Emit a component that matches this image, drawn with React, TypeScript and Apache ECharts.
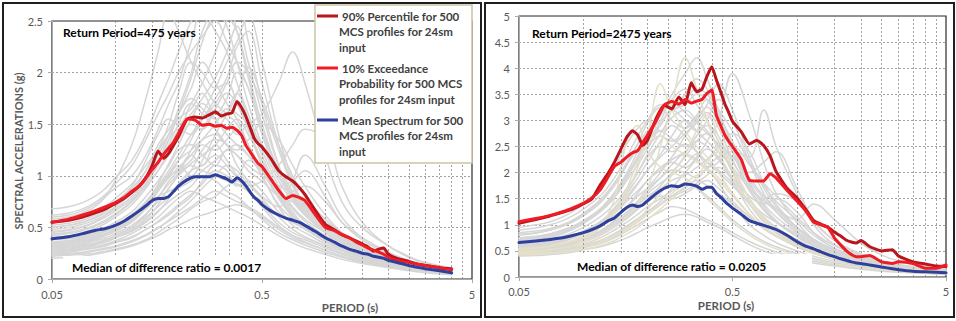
import React, { useEffect, useRef } from "react";
import * as echarts from "echarts";

// Periods (s) at which the summary spectra are tabulated
const PERIODS = [
  0.05, 0.06, 0.07, 0.08, 0.09, 0.1, 0.11, 0.12, 0.13, 0.14, 0.15, 0.16, 0.17, 0.18, 0.19, 0.2,
  0.22, 0.24, 0.26, 0.28, 0.3, 0.32, 0.34, 0.36, 0.38, 0.4, 0.42, 0.44, 0.46, 0.48, 0.5,
  0.55, 0.6, 0.65, 0.7, 0.75, 0.8, 0.9, 1.0, 1.1, 1.2, 1.3, 1.4, 1.5, 1.6, 1.7, 1.8, 1.9, 2.0,
  2.2, 2.5, 2.8, 3.0, 3.5, 4.0, 4.5, 5.0,
];

// Return period 475 years (runs to 4 s)
const P90_475 = [
  0.55, 0.57, 0.6, 0.64, 0.68, 0.73, 0.78, 0.84, 0.9, 0.98, 1.1, 1.24, 1.17, 1.22, 1.3, 1.38,
  1.55, 1.57, 1.56, 1.59, 1.62, 1.58, 1.6, 1.61, 1.72, 1.66, 1.57, 1.46, 1.36, 1.31, 1.28,
  1.17, 1.05, 0.99, 0.95, 0.89, 0.82, 0.66, 0.53, 0.48, 0.43, 0.4, 0.37, 0.34, 0.31, 0.27, 0.29, 0.3, 0.24,
  0.2, 0.17, 0.14, 0.13, 0.11, 0.1,
];
const EXC10_475 = [
  0.55, 0.58, 0.62, 0.66, 0.7, 0.74, 0.79, 0.85, 0.9, 0.98, 1.06, 1.13, 1.21, 1.27, 1.33, 1.41,
  1.55, 1.54, 1.49, 1.5, 1.48, 1.49, 1.46, 1.47, 1.44, 1.39, 1.29, 1.23, 1.17, 1.12, 1.09,
  0.97, 0.86, 0.78, 0.81, 0.79, 0.76, 0.62, 0.5, 0.47, 0.43, 0.4, 0.36, 0.33, 0.3, 0.28, 0.26, 0.24, 0.21,
  0.18, 0.16, 0.14, 0.13, 0.11, 0.09,
];
const MEAN_475 = [
  0.39, 0.41, 0.44, 0.47, 0.49, 0.52, 0.56, 0.61, 0.66, 0.71, 0.76, 0.78, 0.78, 0.8, 0.85, 0.9,
  0.96, 0.99, 0.99, 0.99, 1.01, 0.99, 0.97, 0.94, 0.98, 0.95, 0.9, 0.84, 0.79, 0.76, 0.72,
  0.66, 0.62, 0.59, 0.57, 0.55, 0.52, 0.46, 0.4, 0.36, 0.32, 0.29, 0.27, 0.25, 0.24, 0.22, 0.21, 0.2, 0.18,
  0.16, 0.13, 0.11, 0.1, 0.08, 0.06,
];

// Return period 2475 years
const P90_2475 = [
  1.03, 1.1, 1.17, 1.24, 1.31, 1.4, 1.5, 1.76, 1.97, 2.2, 2.45, 2.68, 2.8, 2.72, 2.52, 2.62,
  3.05, 3.29, 3.22, 3.45, 3.3, 3.72, 3.55, 3.6, 3.85, 4.03, 3.78, 3.55, 3.32, 3.15, 2.98,
  2.78, 2.55, 2.62, 2.52, 2.32, 2.02, 1.7, 1.52, 1.3, 1.08, 1.01, 0.95, 0.86, 0.79, 0.71, 0.67, 0.65, 0.7,
  0.58, 0.5, 0.52, 0.4, 0.29, 0.25, 0.21, 0.2,
];
const EXC10_2475 = [
  1.06, 1.12, 1.18, 1.25, 1.33, 1.41, 1.52, 1.67, 1.9, 2.12, 2.2, 2.3, 2.38, 2.42, 2.58, 2.72,
  3.0, 3.3, 3.36, 3.31, 3.4, 3.33, 3.37, 3.4, 3.52, 3.58, 3.1, 2.9, 2.72, 2.6, 2.5,
  2.25, 1.85, 1.84, 1.84, 1.98, 1.9, 1.66, 1.46, 1.27, 1.05, 1.0, 0.95, 0.75, 0.62, 0.51, 0.43, 0.39, 0.39,
  0.41, 0.29, 0.26, 0.29, 0.26, 0.17, 0.17, 0.23,
];
const MEAN_2475 = [
  0.66, 0.69, 0.72, 0.75, 0.8, 0.85, 0.91, 0.98, 1.07, 1.13, 1.24, 1.33, 1.38, 1.35, 1.38, 1.46,
  1.6, 1.7, 1.75, 1.73, 1.78, 1.77, 1.74, 1.68, 1.72, 1.72, 1.6, 1.53, 1.45, 1.38, 1.32,
  1.2, 1.08, 1.03, 0.99, 0.95, 0.91, 0.8, 0.68, 0.59, 0.54, 0.48, 0.43, 0.39, 0.35, 0.32, 0.29, 0.27, 0.26,
  0.23, 0.19, 0.16, 0.14, 0.11, 0.1, 0.09, 0.08,
];

// Individual MCS profile spectra (a sample of the 500 profiles)
const PROFILE_PERIODS = [
  0.05, 0.06, 0.07, 0.08, 0.09, 0.1, 0.12, 0.14, 0.16, 0.18, 0.2, 0.23, 0.26, 0.3, 0.34, 0.38,
  0.43, 0.5, 0.6, 0.7, 0.8, 1.0, 1.2, 1.5, 2.0, 2.5, 3.0, 4.0, 5.0,
];

const PROFILES_475 = [
  [0.3, 0.31, 0.33, 0.35, 0.38, 0.42, 0.5, 0.62, 0.78, 0.95, 1.05, 1.2, 1.1, 1.3, 1.15, 1.0, 0.85, 0.7, 0.52, 0.42, 0.36, 0.28, 0.22, 0.17, 0.12, 0.09, 0.07, 0.05],
  [0.45, 0.47, 0.5, 0.55, 0.62, 0.7, 0.85, 1.05, 1.3, 1.45, 1.6, 1.85, 2.1, 1.9, 1.7, 1.55, 1.3, 1.0, 0.72, 0.58, 0.5, 0.38, 0.3, 0.24, 0.17, 0.13, 0.1, 0.07],
  [0.25, 0.26, 0.28, 0.3, 0.32, 0.35, 0.4, 0.48, 0.55, 0.62, 0.7, 0.8, 0.95, 1.1, 1.05, 0.9, 0.95, 0.85, 0.65, 0.55, 0.48, 0.36, 0.28, 0.21, 0.15, 0.11, 0.09, 0.06],
  [0.6, 0.62, 0.66, 0.72, 0.8, 0.88, 1.0, 1.2, 1.45, 1.7, 1.9, 2.3, 2.6, 2.4, 2.2, 1.9, 1.6, 1.25, 0.9, 0.7, 0.58, 0.45, 0.36, 0.28, 0.2, 0.15, 0.12, 0.09],
  [0.35, 0.36, 0.38, 0.41, 0.44, 0.48, 0.58, 0.7, 0.85, 1.0, 1.1, 1.0, 1.15, 1.4, 1.6, 1.8, 1.55, 1.2, 0.85, 0.65, 0.52, 0.4, 0.32, 0.25, 0.18, 0.13, 0.1, 0.07],
  [0.22, 0.23, 0.24, 0.25, 0.27, 0.29, 0.33, 0.38, 0.45, 0.52, 0.58, 0.68, 0.75, 0.8, 0.9, 0.95, 0.85, 0.72, 0.55, 0.45, 0.4, 0.32, 0.25, 0.19, 0.14, 0.1, 0.08, 0.05],
  [0.5, 0.52, 0.55, 0.6, 0.66, 0.74, 0.9, 1.15, 1.4, 1.55, 1.5, 1.7, 1.9, 2.2, 2.5, 2.7, 2.3, 1.7, 1.1, 0.8, 0.62, 0.48, 0.38, 0.29, 0.21, 0.16, 0.12, 0.08],
  [0.4, 0.41, 0.43, 0.46, 0.5, 0.55, 0.65, 0.8, 0.95, 1.1, 1.25, 1.3, 1.2, 1.1, 1.25, 1.2, 1.05, 0.95, 0.8, 0.75, 0.7, 0.55, 0.45, 0.32, 0.22, 0.16, 0.12, 0.09],
  [0.28, 0.29, 0.31, 0.33, 0.36, 0.4, 0.47, 0.56, 0.66, 0.75, 0.82, 0.9, 1.0, 0.95, 0.85, 0.8, 0.7, 0.58, 0.45, 0.38, 0.33, 0.26, 0.21, 0.16, 0.12, 0.09, 0.07, 0.05],
  [0.55, 0.57, 0.6, 0.64, 0.7, 0.78, 0.92, 1.1, 1.25, 1.4, 1.55, 1.65, 1.8, 1.6, 1.75, 2.0, 1.85, 1.4, 1.0, 0.8, 0.66, 0.5, 0.4, 0.3, 0.22, 0.16, 0.12, 0.08],
  [0.32, 0.33, 0.35, 0.38, 0.42, 0.46, 0.55, 0.68, 0.8, 0.85, 0.9, 1.05, 1.25, 1.35, 1.3, 1.1, 0.95, 0.8, 0.7, 0.95, 1.2, 0.9, 0.6, 0.4, 0.25, 0.17, 0.13, 0.09],
  [0.42, 0.44, 0.47, 0.51, 0.56, 0.62, 0.75, 0.9, 1.05, 1.2, 1.35, 1.5, 1.45, 1.6, 1.55, 1.4, 1.5, 1.6, 1.9, 2.2, 1.9, 1.2, 0.75, 0.5, 0.32, 0.22, 0.16, 0.11],
  [0.26, 0.27, 0.29, 0.31, 0.34, 0.37, 0.44, 0.52, 0.6, 0.7, 0.78, 0.85, 0.8, 0.75, 0.7, 0.65, 0.6, 0.52, 0.42, 0.35, 0.3, 0.24, 0.19, 0.15, 0.11, 0.08, 0.06, 0.04],
  [0.48, 0.5, 0.53, 0.57, 0.62, 0.68, 0.8, 0.98, 1.2, 1.4, 1.65, 2.0, 2.4, 2.6, 2.45, 2.1, 1.7, 1.3, 0.95, 0.75, 0.62, 0.46, 0.36, 0.27, 0.19, 0.14, 0.11, 0.08],
  [0.38, 0.39, 0.41, 0.44, 0.47, 0.52, 0.6, 0.72, 0.88, 1.0, 1.05, 1.15, 1.3, 1.25, 1.35, 1.45, 1.3, 1.05, 0.8, 0.6, 0.5, 0.38, 0.3, 0.23, 0.16, 0.12, 0.09, 0.06],
  [0.3, 0.31, 0.32, 0.34, 0.37, 0.4, 0.46, 0.55, 0.65, 0.78, 0.92, 1.05, 1.1, 1.2, 1.1, 1.0, 1.15, 1.05, 0.8, 0.62, 0.5, 0.38, 0.29, 0.22, 0.15, 0.11, 0.08, 0.06],
  [0.68, 0.7, 0.74, 0.8, 0.88, 0.98, 1.15, 1.4, 1.7, 1.95, 2.2, 2.5, 2.7, 2.6, 2.55, 2.4, 2.0, 1.5, 1.05, 0.82, 0.68, 0.52, 0.42, 0.32, 0.23, 0.17, 0.13, 0.09],
  [0.24, 0.25, 0.26, 0.28, 0.3, 0.32, 0.37, 0.43, 0.5, 0.56, 0.62, 0.7, 0.78, 0.85, 0.8, 0.75, 0.7, 0.62, 0.5, 0.42, 0.38, 0.3, 0.24, 0.18, 0.13, 0.09, 0.07, 0.05],
  [0.36, 0.37, 0.4, 0.43, 0.47, 0.52, 0.62, 0.75, 0.9, 1.05, 1.2, 1.4, 1.55, 1.7, 1.9, 2.1, 2.0, 1.7, 1.25, 0.9, 0.7, 0.52, 0.4, 0.3, 0.21, 0.15, 0.11, 0.08],
  [0.44, 0.45, 0.48, 0.52, 0.57, 0.63, 0.76, 0.92, 1.1, 1.3, 1.5, 1.7, 1.6, 1.45, 1.3, 1.2, 1.1, 1.0, 0.9, 0.85, 0.9, 0.75, 0.55, 0.4, 0.26, 0.18, 0.14, 0.1],
  [0.2, 0.21, 0.22, 0.24, 0.26, 0.28, 0.32, 0.37, 0.42, 0.48, 0.52, 0.58, 0.62, 0.66, 0.7, 0.72, 0.68, 0.6, 0.48, 0.4, 0.35, 0.28, 0.22, 0.17, 0.12, 0.09, 0.07, 0.05],
  [0.33, 0.34, 0.36, 0.39, 0.43, 0.47, 0.56, 0.7, 0.85, 1.0, 1.15, 1.35, 1.6, 1.85, 2.1, 2.3, 2.55, 2.1, 1.4, 0.95, 0.72, 0.52, 0.4, 0.3, 0.21, 0.15, 0.11, 0.07],
  [0.52, 0.54, 0.57, 0.62, 0.68, 0.75, 0.88, 1.05, 1.25, 1.5, 1.8, 2.1, 2.0, 1.85, 1.9, 1.7, 1.45, 1.1, 0.8, 0.62, 0.52, 0.4, 0.32, 0.25, 0.18, 0.13, 0.1, 0.07],
  [0.29, 0.3, 0.32, 0.35, 0.38, 0.42, 0.5, 0.6, 0.7, 0.8, 0.88, 0.95, 1.05, 1.15, 1.25, 1.3, 1.2, 1.0, 0.7, 0.52, 0.45, 0.34, 0.27, 0.2, 0.14, 0.1, 0.08, 0.05],
  [0.58, 0.6, 0.64, 0.7, 0.8, 0.95, 1.3, 1.75, 2.2, 2.6, 2.4, 2.1, 1.9, 1.7, 1.6, 1.5, 1.3, 1.05, 0.78, 0.6, 0.5, 0.38, 0.3, 0.23, 0.16, 0.12, 0.09, 0.06],
  [0.34, 0.35, 0.37, 0.4, 0.44, 0.48, 0.57, 0.68, 0.8, 0.92, 1.02, 1.1, 1.05, 1.0, 0.95, 0.92, 0.9, 0.95, 1.1, 1.3, 1.45, 1.35, 0.9, 0.55, 0.32, 0.21, 0.15, 0.1],
  [0.27, 0.28, 0.3, 0.33, 0.36, 0.4, 0.48, 0.58, 0.72, 0.88, 1.02, 1.25, 1.45, 1.65, 1.8, 1.7, 1.45, 1.15, 0.82, 0.62, 0.5, 0.37, 0.29, 0.22, 0.15, 0.11, 0.08, 0.06],
  [0.46, 0.48, 0.51, 0.55, 0.6, 0.66, 0.78, 0.95, 1.15, 1.35, 1.45, 1.4, 1.55, 1.75, 1.95, 2.25, 2.4, 1.9, 1.3, 0.92, 0.72, 0.52, 0.4, 0.3, 0.21, 0.15, 0.11, 0.08],
  [0.36, 0.37, 0.39, 0.42, 0.46, 0.5, 0.6, 0.74, 0.92, 1.12, 1.3, 1.55, 1.7, 1.55, 1.4, 1.3, 1.2, 1.05, 0.85, 0.68, 0.56, 0.42, 0.33, 0.25, 0.17, 0.12, 0.09, 0.06],
  [0.62, 0.64, 0.68, 0.74, 0.82, 0.92, 1.1, 1.35, 1.6, 1.8, 2.0, 2.2, 2.35, 2.5, 2.3, 2.1, 1.85, 1.45, 1.05, 0.8, 0.66, 0.5, 0.4, 0.31, 0.22, 0.16, 0.12, 0.09],
  [0.23, 0.24, 0.25, 0.27, 0.29, 0.31, 0.36, 0.42, 0.49, 0.57, 0.65, 0.76, 0.88, 1.0, 1.1, 1.05, 0.92, 0.78, 0.6, 0.48, 0.41, 0.32, 0.25, 0.19, 0.14, 0.1, 0.08, 0.05],
  [0.4, 0.42, 0.45, 0.49, 0.54, 0.6, 0.72, 0.88, 1.05, 1.25, 1.45, 1.6, 1.75, 1.95, 2.2, 2.45, 2.1, 1.6, 1.1, 0.85, 0.7, 0.52, 0.41, 0.31, 0.22, 0.16, 0.12, 0.08],
  [0.31, 0.32, 0.34, 0.37, 0.4, 0.44, 0.52, 0.63, 0.75, 0.88, 1.0, 1.12, 1.2, 1.3, 1.45, 1.55, 1.4, 1.15, 0.9, 0.95, 1.05, 0.8, 0.55, 0.38, 0.24, 0.17, 0.12, 0.08],
  [0.5, 0.52, 0.55, 0.59, 0.64, 0.7, 0.83, 1.0, 1.2, 1.4, 1.6, 1.75, 1.65, 1.55, 1.6, 1.8, 2.05, 1.75, 1.3, 1.0, 0.8, 0.58, 0.45, 0.33, 0.23, 0.17, 0.12, 0.09],
  [0.27, 0.28, 0.29, 0.31, 0.33, 0.36, 0.41, 0.48, 0.56, 0.64, 0.72, 0.82, 0.92, 1.05, 1.0, 0.92, 0.85, 0.75, 0.62, 0.55, 0.5, 0.42, 0.36, 0.28, 0.18, 0.12, 0.09, 0.06],
  [0.43, 0.45, 0.48, 0.52, 0.57, 0.63, 0.75, 0.92, 1.12, 1.35, 1.6, 1.95, 2.3, 2.6, 2.7, 2.4, 1.95, 1.45, 1.0, 0.78, 0.64, 0.48, 0.38, 0.29, 0.2, 0.15, 0.11, 0.08],
  [0.34, 0.35, 0.37, 0.4, 0.44, 0.49, 0.59, 0.72, 0.86, 0.98, 1.08, 1.2, 1.35, 1.5, 1.65, 1.6, 1.5, 1.3, 1.0, 0.78, 0.62, 0.45, 0.35, 0.26, 0.18, 0.13, 0.1, 0.07],
  [0.39, 0.4, 0.42, 0.45, 0.49, 0.53, 0.62, 0.74, 0.88, 1.02, 1.15, 1.25, 1.35, 1.4, 1.3, 1.25, 1.35, 1.5, 1.35, 1.1, 0.9, 0.62, 0.45, 0.32, 0.21, 0.15, 0.11, 0.08],
];

const PROFILES_2475 = [
  [0.55, 0.58, 0.62, 0.68, 0.75, 0.85, 1.05, 1.3, 1.6, 1.9, 2.2, 2.6, 2.9, 2.7, 2.4, 2.1, 1.8, 1.4, 1.0, 0.8, 0.66, 0.5, 0.4, 0.3, 0.22, 0.17, 0.14, 0.1, 0.08],
  [0.8, 0.84, 0.9, 0.98, 1.08, 1.2, 1.45, 1.8, 2.2, 2.55, 2.8, 3.1, 3.4, 3.6, 3.3, 3.0, 2.6, 2.1, 1.5, 1.15, 0.95, 0.7, 0.55, 0.42, 0.3, 0.23, 0.18, 0.13, 0.1],
  [0.45, 0.47, 0.5, 0.54, 0.58, 0.63, 0.75, 0.9, 1.05, 1.2, 1.35, 1.5, 1.65, 1.8, 1.7, 1.55, 1.35, 1.1, 0.85, 0.68, 0.58, 0.45, 0.36, 0.27, 0.2, 0.15, 0.12, 0.09, 0.07],
  [0.65, 0.68, 0.72, 0.78, 0.86, 0.95, 1.15, 1.4, 1.7, 2.0, 2.3, 2.5, 2.4, 2.7, 3.0, 3.3, 3.7, 3.2, 2.3, 1.7, 1.35, 0.95, 0.72, 0.52, 0.36, 0.27, 0.21, 0.15, 0.12],
  [0.5, 0.52, 0.55, 0.59, 0.64, 0.7, 0.82, 0.98, 1.15, 1.3, 1.45, 1.55, 1.5, 1.6, 1.75, 1.85, 1.7, 1.45, 1.15, 0.92, 0.78, 0.58, 0.46, 0.35, 0.25, 0.19, 0.15, 0.11, 0.09],
  [0.95, 1.0, 1.06, 1.15, 1.26, 1.4, 1.7, 2.1, 2.55, 2.85, 3.0, 2.8, 3.2, 3.5, 3.8, 3.6, 3.1, 2.4, 1.7, 1.3, 1.05, 0.78, 0.6, 0.45, 0.32, 0.24, 0.19, 0.14, 0.11],
  [0.6, 0.62, 0.66, 0.71, 0.78, 0.86, 1.02, 1.22, 1.45, 1.65, 1.85, 2.05, 2.2, 2.1, 2.3, 2.6, 3.0, 3.9, 3.1, 2.2, 1.6, 1.05, 0.72, 0.5, 0.34, 0.25, 0.2, 0.14, 0.11],
  [0.42, 0.44, 0.46, 0.49, 0.52, 0.56, 0.64, 0.75, 0.88, 1.0, 1.12, 1.25, 1.35, 1.3, 1.2, 1.1, 1.0, 0.85, 0.68, 0.56, 0.48, 0.38, 0.3, 0.23, 0.17, 0.13, 0.1, 0.07, 0.06],
  [0.72, 0.75, 0.8, 0.87, 0.95, 1.05, 1.28, 1.58, 1.95, 2.3, 2.7, 3.1, 3.5, 3.9, 4.2, 3.8, 3.2, 2.5, 1.8, 1.35, 1.08, 0.78, 0.6, 0.45, 0.32, 0.24, 0.19, 0.14, 0.11],
  [0.58, 0.6, 0.64, 0.69, 0.75, 0.82, 0.97, 1.15, 1.35, 1.55, 1.7, 1.9, 2.05, 2.0, 1.9, 2.1, 2.3, 2.4, 2.3, 3.2, 2.5, 1.6, 1.0, 0.62, 0.4, 0.3, 0.23, 0.17, 0.13],
  [0.85, 0.88, 0.93, 1.0, 1.1, 1.22, 1.48, 1.8, 2.15, 2.45, 2.6, 2.9, 3.2, 3.0, 2.8, 2.9, 2.7, 2.2, 1.75, 1.45, 1.3, 1.1, 1.4, 1.1, 0.65, 0.42, 0.31, 0.21, 0.16],
  [0.48, 0.5, 0.53, 0.57, 0.62, 0.68, 0.8, 0.96, 1.12, 1.3, 1.5, 1.75, 2.0, 2.3, 2.6, 2.75, 2.5, 2.0, 1.4, 1.05, 0.85, 0.62, 0.48, 0.36, 0.25, 0.19, 0.15, 0.11, 0.08],
  [0.4, 0.41, 0.43, 0.45, 0.48, 0.52, 0.58, 0.66, 0.75, 0.85, 0.95, 1.05, 1.15, 1.2, 1.15, 1.05, 0.95, 0.8, 0.62, 0.5, 0.43, 0.34, 0.27, 0.21, 0.15, 0.11, 0.09, 0.07, 0.05],
  [0.68, 0.71, 0.76, 0.83, 0.92, 1.02, 1.25, 1.55, 1.9, 2.25, 2.5, 2.7, 2.6, 2.85, 3.1, 3.4, 3.1, 2.6, 2.0, 2.2, 2.4, 1.7, 1.1, 0.7, 0.42, 0.3, 0.23, 0.16, 0.12],
  [0.52, 0.54, 0.57, 0.61, 0.66, 0.72, 0.85, 1.02, 1.2, 1.4, 1.6, 1.8, 1.95, 2.15, 2.35, 2.2, 2.0, 1.75, 1.4, 1.12, 0.92, 0.68, 0.52, 0.4, 0.28, 0.21, 0.17, 0.12, 0.09],
  [0.62, 0.65, 0.69, 0.74, 0.8, 0.88, 1.05, 1.25, 1.5, 1.78, 2.05, 2.35, 2.7, 3.0, 2.8, 2.6, 2.4, 2.1, 1.7, 1.5, 1.6, 1.45, 1.05, 0.7, 0.44, 0.31, 0.24, 0.17, 0.13],
  [0.44, 0.45, 0.48, 0.51, 0.55, 0.6, 0.7, 0.83, 0.98, 1.12, 1.25, 1.4, 1.55, 1.65, 1.8, 1.95, 2.1, 1.85, 1.4, 1.1, 0.9, 0.66, 0.5, 0.38, 0.27, 0.2, 0.16, 0.11, 0.08],
  [0.75, 0.78, 0.83, 0.9, 0.98, 1.08, 1.3, 1.6, 1.95, 2.3, 2.6, 2.95, 3.2, 3.3, 3.5, 3.4, 3.0, 2.4, 1.8, 1.4, 1.15, 0.85, 0.65, 0.48, 0.33, 0.25, 0.19, 0.14, 0.1],
  [0.9, 0.94, 1.0, 1.08, 1.18, 1.3, 1.55, 1.9, 2.3, 2.7, 3.0, 3.3, 3.2, 3.4, 3.6, 3.5, 3.2, 2.8, 2.2, 1.8, 1.55, 1.15, 0.85, 0.6, 0.4, 0.29, 0.22, 0.16, 0.12],
  [0.58, 0.6, 0.64, 0.7, 0.77, 0.86, 1.05, 1.32, 1.65, 2.0, 2.35, 2.75, 3.05, 3.2, 3.0, 2.8, 2.5, 2.05, 1.5, 1.15, 0.95, 0.7, 0.54, 0.4, 0.28, 0.21, 0.17, 0.12, 0.09],
  [0.47, 0.49, 0.52, 0.56, 0.61, 0.67, 0.8, 0.98, 1.2, 1.45, 1.7, 2.0, 2.3, 2.55, 2.4, 2.2, 2.05, 1.8, 1.45, 1.2, 1.05, 0.82, 0.62, 0.45, 0.31, 0.23, 0.18, 0.13, 0.1],
  [0.7, 0.73, 0.78, 0.85, 0.93, 1.03, 1.25, 1.52, 1.85, 2.15, 2.45, 2.8, 2.65, 2.5, 2.7, 3.0, 3.4, 3.0, 2.2, 1.6, 1.25, 0.88, 0.66, 0.48, 0.33, 0.25, 0.19, 0.14, 0.11],
  [0.52, 0.54, 0.57, 0.61, 0.66, 0.73, 0.88, 1.08, 1.35, 1.6, 1.85, 2.1, 2.25, 2.4, 2.6, 2.5, 2.25, 1.9, 1.55, 1.4, 1.5, 1.25, 0.85, 0.55, 0.36, 0.27, 0.21, 0.15, 0.11],
  [0.44, 0.46, 0.48, 0.51, 0.55, 0.59, 0.68, 0.8, 0.95, 1.1, 1.25, 1.45, 1.7, 2.0, 2.25, 2.45, 2.3, 1.85, 1.3, 0.98, 0.8, 0.58, 0.45, 0.34, 0.24, 0.18, 0.14, 0.1, 0.08],
  [0.82, 0.85, 0.9, 0.97, 1.06, 1.17, 1.42, 1.75, 2.15, 2.55, 2.95, 3.25, 3.0, 2.85, 3.05, 3.25, 2.95, 2.4, 1.85, 1.5, 1.25, 0.92, 0.7, 0.5, 0.34, 0.26, 0.2, 0.14, 0.11],
  [0.55, 0.57, 0.6, 0.64, 0.69, 0.75, 0.88, 1.05, 1.25, 1.45, 1.65, 1.9, 2.15, 2.35, 2.25, 2.1, 2.2, 2.5, 2.15, 1.75, 1.45, 1.1, 0.8, 0.55, 0.36, 0.27, 0.21, 0.15, 0.11],
  [0.62, 0.64, 0.68, 0.73, 0.8, 0.88, 1.05, 1.28, 1.55, 1.8, 2.05, 2.3, 2.5, 2.75, 2.95, 3.15, 2.85, 2.25, 1.65, 1.28, 1.05, 0.78, 0.6, 0.45, 0.31, 0.23, 0.18, 0.13, 0.1],
  [0.46, 0.47, 0.49, 0.52, 0.55, 0.59, 0.67, 0.78, 0.92, 1.06, 1.2, 1.38, 1.55, 1.72, 1.85, 1.75, 1.6, 1.4, 1.15, 0.98, 0.88, 0.72, 0.55, 0.4, 0.28, 0.21, 0.16, 0.12, 0.09],
  [0.74, 0.77, 0.82, 0.89, 0.97, 1.07, 1.3, 1.62, 2.0, 2.4, 2.75, 3.0, 3.35, 3.15, 2.95, 2.75, 2.55, 2.3, 1.9, 1.55, 1.3, 0.95, 0.72, 0.52, 0.36, 0.27, 0.21, 0.15, 0.11],
  [0.5, 0.52, 0.55, 0.58, 0.63, 0.68, 0.8, 0.96, 1.15, 1.35, 1.55, 1.7, 1.85, 1.95, 2.1, 2.25, 2.5, 2.75, 2.4, 1.8, 1.4, 0.95, 0.68, 0.48, 0.33, 0.25, 0.19, 0.14, 0.1],
];

// Profiles drawn in the paler beige tone
const PROFILES_2475_BEIGE = [
  [0.48, 0.5, 0.53, 0.57, 0.62, 0.68, 0.8, 0.96, 1.15, 1.4, 1.7, 2.5, 3.3, 4.2, 3.6, 3.0, 2.4, 1.9, 1.4, 1.1, 0.92, 0.68, 0.52, 0.4, 0.28, 0.21, 0.17, 0.12, 0.09],
  [0.55, 0.57, 0.6, 0.65, 0.71, 0.78, 0.95, 1.2, 1.6, 2.1, 2.7, 3.7, 3.2, 2.8, 2.5, 2.3, 2.0, 1.6, 1.2, 0.95, 0.8, 0.6, 0.46, 0.35, 0.25, 0.19, 0.15, 0.11, 0.08],
  [0.46, 0.48, 0.51, 0.56, 0.62, 0.72, 0.95, 1.5, 2.6, 2.9, 2.4, 2.1, 2.0, 1.9, 1.7, 1.5, 1.3, 1.05, 0.8, 0.64, 0.54, 0.41, 0.33, 0.25, 0.18, 0.14, 0.11, 0.08, 0.06],
  [0.5, 0.51, 0.53, 0.55, 0.58, 0.62, 0.7, 0.8, 0.92, 1.05, 1.2, 1.4, 1.6, 1.8, 1.95, 2.05, 1.9, 1.6, 1.2, 0.95, 0.8, 0.6, 0.47, 0.36, 0.26, 0.2, 0.16, 0.11, 0.08],
  [0.42, 0.43, 0.45, 0.47, 0.5, 0.53, 0.6, 0.7, 0.82, 0.95, 1.1, 1.3, 1.5, 1.7, 1.9, 2.2, 2.4, 2.1, 1.5, 1.1, 0.88, 0.64, 0.5, 0.38, 0.27, 0.2, 0.16, 0.11, 0.08],
  [0.53, 0.55, 0.58, 0.62, 0.68, 0.76, 0.95, 1.25, 1.7, 2.2, 2.55, 2.7, 2.5, 2.35, 2.2, 2.05, 1.85, 1.55, 1.2, 0.95, 0.8, 0.6, 0.46, 0.35, 0.25, 0.19, 0.15, 0.11, 0.08],
  [0.44, 0.45, 0.47, 0.5, 0.53, 0.57, 0.66, 0.78, 0.93, 1.1, 1.3, 1.6, 1.95, 2.35, 2.8, 3.1, 2.7, 2.1, 1.5, 1.15, 0.92, 0.67, 0.51, 0.39, 0.28, 0.21, 0.16, 0.12, 0.09],
];

// Axis furniture
const X_TICK_LABELS = ["0.05", "0.5", "5"];
const V_GRID_PERIODS = [0.1, 0.15, 0.2, 0.25, 0.3, 0.35, 0.4, 0.45, 0.5, 1, 1.5, 2, 2.5, 3, 3.5, 4, 4.5];

const LEGEND_ITEMS = [
  { color: "#b9151c", lines: ["90% Percentile for 500", "MCS profiles for 24sm", "input"] },
  { color: "#ee1c24", lines: ["10% Exceedance", "Probability for 500 MCS", "profiles for 24sm input"] },
  { color: "#2e3f9c", lines: ["Mean Spectrum for 500", "MCS profiles for 24sm", "input"] },
];

const COLOR_P90 = "#b9151c";
const COLOR_EXC = "#ee1c24";
const COLOR_MEAN = "#2e3f9c";
const COLOR_PROFILE = "#d6d6d6";
const COLOR_BEIGE = "#e4dfc9";
const FONT = "Lato";

const toPoints = (xs: number[], ys: number[]) => ys.map((y, i) => [xs[i], y]);

function lineSeries(
  xAxisIndex: number,
  yAxisIndex: number,
  xs: number[],
  ys: number[],
  color: string,
  width: number,
  z: number,
  smooth: number | boolean
) {
  return {
    type: "line",
    xAxisIndex,
    yAxisIndex,
    data: toPoints(xs, ys),
    symbol: "none",
    showSymbol: false,
    smooth,
    silent: true,
    z,
    lineStyle: { color, width, cap: "round", join: "round" },
    emphasis: { disabled: true },
  };
}

function gridLineSeries(xAxisIndex: number, yAxisIndex: number) {
  return {
    type: "line",
    xAxisIndex,
    yAxisIndex,
    data: [],
    silent: true,
    z: 1,
    markLine: {
      silent: true,
      symbol: ["none", "none"],
      label: { show: false },
      emphasis: { disabled: true },
      lineStyle: { color: "#8a8a8a", type: [2, 2], width: 0.8 },
      data: V_GRID_PERIODS.map((p) => ({ xAxis: p })),
    },
  };
}

function panelSeries(
  xAxisIndex: number,
  yAxisIndex: number,
  profiles: number[][],
  beige: number[][],
  p90: number[],
  exc: number[],
  mean: number[]
) {
  return [
    gridLineSeries(xAxisIndex, yAxisIndex),
    ...profiles.map((ys) => lineSeries(xAxisIndex, yAxisIndex, PROFILE_PERIODS, ys, COLOR_PROFILE, 1.5, 2, 0.4)),
    ...beige.map((ys) => lineSeries(xAxisIndex, yAxisIndex, PROFILE_PERIODS, ys, COLOR_BEIGE, 1.5, 3, 0.4)),
    lineSeries(xAxisIndex, yAxisIndex, PERIODS, p90, COLOR_P90, 3, 5, 0.15),
    lineSeries(xAxisIndex, yAxisIndex, PERIODS, exc, COLOR_EXC, 3, 6, 0.15),
    lineSeries(xAxisIndex, yAxisIndex, PERIODS, mean, COLOR_MEAN, 3, 7, 0.15),
  ];
}

const axisGray = "#a9a9a9";
const labelGray = "#595959";

function periodAxes(gridIndex: number, labelMargin: number) {
  return [
    { gridIndex, type: "log", logBase: 10, min: 0.05, max: 5, show: false },
    {
      gridIndex,
      type: "value",
      min: 0,
      max: 2,
      interval: 1,
      position: "bottom",
      axisLine: { show: true, lineStyle: { color: axisGray, width: 1 } },
      axisTick: { show: true, length: 4, lineStyle: { color: axisGray } },
      axisLabel: {
        color: labelGray,
        fontSize: 11,
        fontFamily: FONT,
        margin: labelMargin,
        formatter: (v: number) => X_TICK_LABELS[Math.round(v)] ?? "",
      },
      splitLine: { show: false },
    },
  ];
}

function accelAxis(gridIndex: number, max: number) {
  return {
    gridIndex,
    type: "value",
    min: 0,
    max,
    interval: 0.5,
    axisLine: { show: true, lineStyle: { color: axisGray, width: 1 } },
    axisTick: { show: true, length: 4, lineStyle: { color: axisGray } },
    axisLabel: { color: labelGray, fontSize: 11, fontFamily: FONT, margin: 9 },
    splitLine: { show: true, lineStyle: { color: "#8a8a8a", type: [2, 2], width: 0.8 } },
  };
}

function legendGraphics(x: number, y: number) {
  const els: any[] = [
    {
      type: "rect",
      z: 100,
      silent: true,
      shape: { x, y, width: 157, height: 158 },
      style: { fill: "#ffffff", stroke: "#cbc4a6", lineWidth: 1.5 },
    },
  ];
  LEGEND_ITEMS.forEach((item, i) => {
    const top = y + 11 + i * 52;
    els.push({
      type: "line",
      z: 101,
      silent: true,
      shape: { x1: x + 2, y1: top, x2: x + 23, y2: top },
      style: { stroke: item.color, lineWidth: 3 },
    });
    item.lines.forEach((t, j) => {
      els.push({
        type: "text",
        z: 101,
        silent: true,
        x: j === 0 ? x + 27 : x + 24,
        y: top + j * 15.5,
        style: {
          text: t,
          fill: "#404040",
          fontSize: 11.5,
          fontWeight: "bold",
          fontFamily: FONT,
          verticalAlign: "middle",
          align: "left",
        },
      });
    });
  });
  return els;
}

function textEl(text: string, x: number, y: number, opts: any = {}) {
  return {
    type: "text",
    z: 102,
    silent: true,
    x,
    y,
    rotation: opts.rotation ?? 0,
    style: {
      text,
      fill: opts.fill ?? "#000000",
      fontSize: opts.fontSize ?? 12,
      fontWeight: "bold",
      fontFamily: FONT,
      align: opts.align ?? "left",
      verticalAlign: "middle",
    },
  };
}

export default function App() {
  const ref = useRef<HTMLDivElement>(null);

  useEffect(() => {
    if (!ref.current) return;
    const chart = echarts.init(ref.current, undefined, { renderer: "svg" });

    const option = {
      animation: false,
      backgroundColor: "#ffffff",
      textStyle: { fontFamily: FONT },
      grid: [
        { left: 52, top: 21, width: 420, height: 258, show: true, borderColor: "#2b2b2b", borderWidth: 1.2, backgroundColor: "transparent" },
        { left: 519, top: 16, width: 427, height: 261, show: true, borderColor: "#2b2b2b", borderWidth: 1.2, backgroundColor: "transparent" },
      ],
      xAxis: [...periodAxes(0, 10), ...periodAxes(1, 9)],
      yAxis: [accelAxis(0, 2.5), accelAxis(1, 5)],
      series: [
        ...panelSeries(0, 0, PROFILES_475, [], P90_475, EXC10_475, MEAN_475),
        ...panelSeries(2, 1, PROFILES_2475, PROFILES_2475_BEIGE, P90_2475, EXC10_2475, MEAN_2475),
      ],
      graphic: {
        elements: [
          // panel frames
          { type: "rect", z: 110, silent: true, shape: { x: 3, y: 3, width: 478, height: 314 }, style: { fill: "none", stroke: "#1e1e1e", lineWidth: 2 } },
          { type: "rect", z: 110, silent: true, shape: { x: 485, y: 3, width: 469, height: 314 }, style: { fill: "none", stroke: "#1e1e1e", lineWidth: 2 } },
          // panel titles
          textEl("Return Period=475 years", 63, 32),
          textEl("Return Period=2475 years", 532, 33),
          // note boxes
          { type: "rect", z: 101, silent: true, shape: { x: 63, y: 256, width: 212, height: 22 }, style: { fill: "#ffffff" } },
          textEl("Median of difference ratio = 0.0017", 72, 267),
          { type: "rect", z: 101, silent: true, shape: { x: 568, y: 254, width: 244, height: 22 }, style: { fill: "#ffffff" } },
          textEl("Median of difference ratio = 0.0205", 577, 266),
          // axis titles
          textEl("SPECTRAL ACCELERATIONS (g)", 18, 151, { rotation: Math.PI / 2, align: "center", fill: labelGray, fontSize: 11 }),
          textEl("PERIOD (s)", 350, 307, { align: "center", fill: labelGray, fontSize: 11.5 }),
          textEl("PERIOD (s)", 726, 305, { align: "center", fill: labelGray, fontSize: 11.5 }),
          ...legendGraphics(315, 5),
        ],
      },
    };

    chart.setOption(option as any);
    return () => chart.dispose();
  }, []);

  return (
    <div
      ref={ref}
      style={{ position: "fixed", left: 0, top: 0, width: 956, height: 321, background: "#fff" }}
    />
  );
}
